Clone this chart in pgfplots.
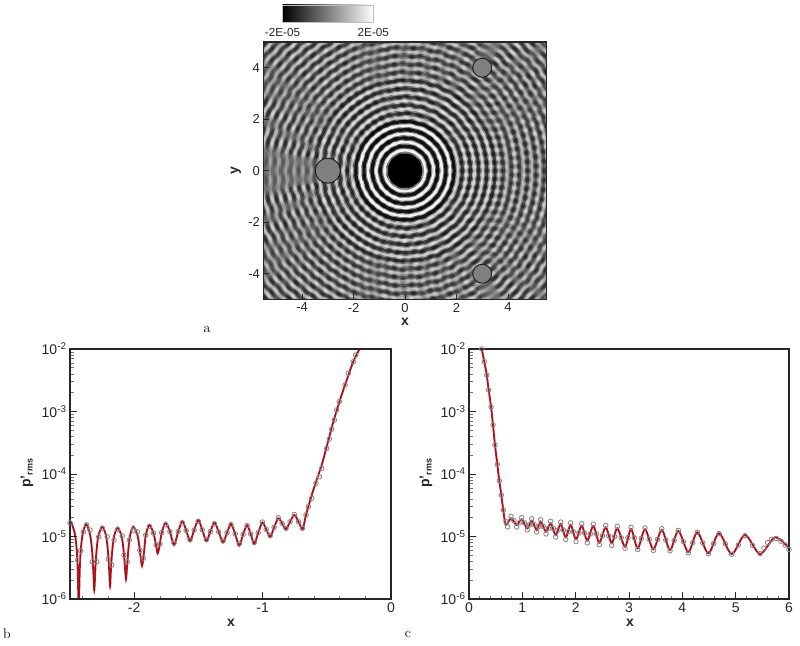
\documentclass[border=0pt]{standalone}
\usepackage{pgfplots}
\usepackage{pgfplotstable}
\usepackage{fontspec}
\setmainfont{Liberation Sans}
\newfontfamily\lmfont{Latin Modern Roman}
\pgfplotsset{compat=1.18}
\definecolor{redline}{RGB}{200,22,34}
\definecolor{circ}{RGB}{135,135,135}

\pgfplotstableread{
x y
-2.50 1.70e-5
-2.492 1.72e-5
-2.462 1.10e-5
-2.447 5.9e-6
-2.44 3.0e-6
-2.432 8e-7
-2.424 3.0e-6
-2.417 5.7e-6
-2.403 1.05e-5
-2.375 1.585e-5
-2.343 1.05e-5
-2.327 5.6e-6
-2.319 3.0e-6
-2.311 1.39e-6
-2.303 2.9e-6
-2.295 5.4e-6
-2.28 1.0e-5
-2.248 1.435e-5
-2.218 1.0e-5
-2.203 5.3e-6
-2.195 3.0e-6
-2.188 1.61e-6
-2.181 3.0e-6
-2.173 5.3e-6
-2.158 9.8e-6
-2.129 1.383e-5
-2.097 9.8e-6
-2.08 5.3e-6
-2.072 3.2e-6
-2.064 2.09e-6
-2.056 3.2e-6
-2.048 5.3e-6
-2.035 9.8e-6
-2.007 1.435e-5
-1.973 1.02e-5
-1.956 6.0e-6
-1.939 3.41e-6
-1.922 6.0e-6
-1.91 1.05e-5
-1.882 1.528e-5
-1.85 1.13e-5
-1.83 7.3e-6
-1.817 5.38e-6
-1.80 7.6e-6
-1.786 1.15e-5
-1.755 1.663e-5
-1.722 1.2e-5
-1.69 7.31e-6
-1.657 1.2e-5
-1.625 1.77e-5
-1.595 1.25e-5
-1.565 8.47e-6
-1.533 1.27e-5
-1.501 1.837e-5
-1.47 1.28e-5
-1.438 8.47e-6
-1.407 1.2e-5
-1.375 1.663e-5
-1.342 1.19e-5
-1.308 8.07e-6
-1.277 1.15e-5
-1.246 1.585e-5
-1.214 1.1e-5
-1.182 7.13e-6
-1.152 1.08e-5
-1.121 1.511e-5
-1.093 1.1e-5
-1.065 7.67e-6
-1.034 1.15e-5
-1.002 1.675e-5
-0.972 1.3e-5
-0.941 9.93e-6
-0.91 1.4e-5
-0.878 1.955e-5
-0.848 1.62e-5
-0.818 1.318e-5
-0.786 1.72e-5
-0.753 2.208e-5
-0.72 1.72e-5
-0.688 1.318e-5
-0.662 2.21e-5
-0.605 5.55e-5
-0.54 1.39e-4
-0.501 2.73e-4
-0.449 6.87e-4
-0.397 1.53e-3
-0.345 3.19e-3
-0.294 6.27e-3
-0.247 9.89e-3
-0.2 1.6e-2
}\tableBline

\pgfplotstableread{
x y
-2.5 1.65e-5
-2.44 4.2e-6
-2.417 5.9e-6
-2.396 1.19e-5
-2.37 1.53e-5
-2.344 1.27e-5
-2.326 3.95e-6
-2.292 3.95e-6
-2.276 9.9e-6
-2.248 1.35e-5
-2.21 9.9e-6
-2.202 4.37e-6
-2.175 3.5e-6
-2.157 8.8e-6
-2.129 1.3e-5
-2.093 1.02e-5
-2.08 5.06e-6
-2.054 3.95e-6
-2.038 8.8e-6
-2.007 1.27e-5
-1.976 1.19e-5
-1.956 6.0e-6
-1.93 4.5e-6
-1.91 1.05e-5
-1.882 1.45e-5
-1.85 1.13e-5
-1.83 7.3e-6
-1.80 7.6e-6
-1.786 1.15e-5
-1.755 1.55e-5
-1.722 1.2e-5
-1.69 7.8e-6
-1.657 1.2e-5
-1.625 1.65e-5
-1.595 1.25e-5
-1.565 8.9e-6
-1.533 1.27e-5
-1.501 1.75e-5
-1.47 1.28e-5
-1.438 8.9e-6
-1.407 1.2e-5
-1.375 1.6e-5
-1.342 1.19e-5
-1.308 8.5e-6
-1.277 1.15e-5
-1.246 1.55e-5
-1.214 1.1e-5
-1.182 7.6e-6
-1.152 1.08e-5
-1.121 1.5e-5
-1.093 1.1e-5
-1.065 8.0e-6
-1.034 1.15e-5
-1.002 1.7e-5
-0.972 1.3e-5
-0.941 1.03e-5
-0.91 1.4e-5
-0.878 2.0e-5
-0.848 1.62e-5
-0.818 1.35e-5
-0.786 1.72e-5
-0.753 2.25e-5
-0.72 1.72e-5
-0.69 1.35e-5
-0.662 2.21e-5
-0.644 3.0e-5
-0.618 4.08e-5
-0.584 7.1e-5
-0.558 9.06e-5
-0.54 1.23e-4
-0.501 2.58e-4
-0.48 3.63e-4
-0.462 5.19e-4
-0.441 7.31e-4
-0.423 1.06e-3
-0.403 1.44e-3
-0.358 2.65e-3
-0.333 4.08e-3
-0.294 6.27e-3
-0.275 8.0e-3
}\tableBcirc

\pgfplotstableread{
x y
0.20 1.6e-2
0.238 1.0e-2
0.287 6.27e-3
0.332 3.84e-3
0.369 2.21e-3
0.413 1.19e-3
0.45 6.08e-4
0.487 2.91e-4
0.531 1.43e-4
0.568 7.82e-5
0.606 4.61e-5
0.643 2.65e-5
0.69 1.53e-5
0.788 1.955e-5
0.894 1.528e-5
0.988 1.885e-5
1.093 1.352e-5
1.176 1.79e-5
1.27 1.27e-5
1.344 1.725e-5
1.444 1.194e-5
1.532 1.626e-5
1.626 1.057e-5
1.72 1.585e-5
1.813 9.7e-6
1.907 1.528e-5
2.006 9.02e-6
2.113 1.489e-5
2.218 8.57e-6
2.331 1.472e-5
2.443 7.96e-6
2.563 1.403e-5
2.676 7.78e-6
2.781 1.352e-5
2.925 6.87e-6
3.038 1.318e-5
3.163 6.47e-6
3.3 1.303e-5
3.456 6.24e-6
3.613 1.27e-5
3.769 6.08e-6
3.925 1.225e-5
4.112 5.65e-6
4.281 1.167e-5
4.487 5.38e-6
4.688 1.125e-5
4.926 5.25e-6
5.176 1.057e-5
5.457 5.25e-6
5.738 9.7e-6
6.0 6.47e-6
}\tableCline

\pgfplotstableread{
x y
0.238 1.0e-2
0.287 6.27e-3
0.332 3.84e-3
0.369 2.21e-3
0.413 1.19e-3
0.45 6.08e-4
0.487 2.91e-4
0.531 1.43e-4
0.568 7.82e-5
0.606 4.61e-5
0.643 2.65e-5
0.694 1.73e-5
0.725 1.43e-5
0.788 2.1e-5
0.84 1.8e-5
0.894 1.42e-5
0.94 1.65e-5
0.988 2.0e-5
1.04 1.65e-5
1.093 1.28e-5
1.135 1.55e-5
1.176 1.92e-5
1.22 1.55e-5
1.27 1.18e-5
1.31 1.45e-5
1.344 1.85e-5
1.39 1.45e-5
1.444 1.1e-5
1.49 1.35e-5
1.532 1.75e-5
1.58 1.35e-5
1.626 9.8e-6
1.67 1.27e-5
1.72 1.7e-5
1.77 1.27e-5
1.813 9e-6
1.86 1.2e-5
1.907 1.65e-5
1.955 1.2e-5
2.006 8.3e-6
2.06 1.14e-5
2.113 1.6e-5
2.165 1.14e-5
2.218 7.9e-6
2.275 1.1e-5
2.331 1.58e-5
2.387 1.1e-5
2.443 7.4e-6
2.503 1.03e-5
2.563 1.5e-5
2.62 1.03e-5
2.676 7.2e-6
2.73 1.0e-5
2.781 1.45e-5
2.853 9.6e-6
2.925 6.5e-6
2.98 9.6e-6
3.038 1.4e-5
3.1 9.5e-6
3.163 6.2e-6
3.23 9.3e-6
3.3 1.37e-5
3.378 9e-6
3.456 6e-6
3.535 9e-6
3.613 1.33e-5
3.69 8.8e-6
3.769 5.9e-6
3.847 8.6e-6
3.925 1.25e-5
4.02 8.3e-6
4.112 5.5e-6
4.196 8e-6
4.281 1.17e-5
4.384 7.9e-6
4.487 5.3e-6
4.587 7.7e-6
4.688 1.11e-5
4.807 7.6e-6
4.926 5.2e-6
5.05 7.3e-6
5.176 1.03e-5
5.316 7.2e-6
5.457 5.3e-6
5.53 6.5e-6
5.6 8e-6
5.67 9e-6
5.76 9.3e-6
5.85 8.4e-6
5.93 7.3e-6
6 6.2e-6
}\tableCcirc

% one ring of the field: centre (#1,#2), radius #3 px, colour #4, width #5, opacity #6
\newcommand{\ring}[6]{\addplot[only marks,mark=o,mark size=#3,mark options={draw=#4,line width=#5,draw opacity=#6}] coordinates {(#1,#2)};}

\begin{document}
\begin{tikzpicture}
\path[use as bounding box] (0pt,0pt) rectangle (800pt,645pt);

% colour bar
\shade[left color=black,right color=white,draw=black!25,line width=.6pt] (282.7pt,622.3pt) rectangle (373.3pt,640pt);
\node[font=\fontsize{11.7}{13}\selectfont,black!85] at (282.5pt,612.5pt) {-2E-05};
\node[font=\fontsize{11.7}{13}\selectfont,black!85] at (373.3pt,612.5pt) {2E-05};

% panel a
\begin{axis}[
  at={(263.5pt,345.5pt)}, anchor=south west, scale only axis, width=283pt, height=257.5pt,
  xmin=-5.5, xmax=5.5, ymin=-5, ymax=5,
  xtick={-4,-2,0,2,4}, xticklabels={-4,-2,0,2,4},
  ytick={-4,-2,0,2,4}, yticklabels={-4,-2,0,2,4},
  tick align=inside, xtick pos=bottom, ytick pos=left, major tick length=5pt,
  tick style={black!85,line width=.8pt},
  axis line style={black!85,line width=1.2pt},
  tick label style={font=\fontsize{13}{15}\selectfont,black!85},
  axis on top=true, clip marker paths=true,
  axis background/.style={fill=black!50},
]
% scattered waves from the three small cylinders, then the main rings
\pgfplotsinvokeforeach{18,26.2,...,330}{\ring{-3}{0}{#1}{black}{3pt}{.16}}
\pgfplotsinvokeforeach{22.1,30.3,...,330}{\ring{-3}{0}{#1}{white}{2.6pt}{.16}}
\pgfplotsinvokeforeach{14,22.2,...,340}{\ring{3}{4}{#1}{black}{3pt}{.18}}
\pgfplotsinvokeforeach{18.1,26.3,...,340}{\ring{3}{4}{#1}{white}{2.6pt}{.18}}
\pgfplotsinvokeforeach{14,22.2,...,340}{\ring{3}{-4}{#1}{black}{3pt}{.18}}
\pgfplotsinvokeforeach{18.1,26.3,...,340}{\ring{3}{-4}{#1}{white}{2.6pt}{.18}}
\pgfplotsinvokeforeach{98.4,106.6,...,295}{\ring{0}{0}{#1}{black}{3pt}{.42}}
\pgfplotsinvokeforeach{94.3,102.5,...,295}{\ring{0}{0}{#1}{white}{2.4pt}{.4}}
\pgfplotsinvokeforeach{57.4,65.6,73.8,82,90.2}{\ring{0}{0}{#1}{black}{3pt}{.6}}
\pgfplotsinvokeforeach{53.3,61.5,69.7,77.9,86.1}{\ring{0}{0}{#1}{white}{2.4pt}{.6}}
\pgfplotsinvokeforeach{24.6,32.8,41,49.2}{\ring{0}{0}{#1}{black}{3.2pt}{.85}}
\pgfplotsinvokeforeach{20.5,28.7,36.9,45.1}{\ring{0}{0}{#1}{white}{2.6pt}{.9}}
% shadows behind the cylinders
\addplot[fill=black!50,draw=none,opacity=.4] coordinates {(-3.3,.45)(-5.5,.8)(-5.5,-.8)(-3.3,-.45)} -- cycle;
\addplot[fill=black!50,draw=none,opacity=.45] coordinates {(2.8,-4.4)(3,-5)(3.8,-5)(3.4,-4.4)} -- cycle;
\addplot[fill=black!50,draw=none,opacity=.45] coordinates {(2.8,4.4)(3,5)(3.8,5)(3.4,4.4)} -- cycle;
% cylinders
\addplot[only marks,mark=*,mark size=17,mark options={fill=black,draw=black}] coordinates {(0,0)};
\addplot[only marks,mark=*,mark size=12.5,mark options={fill=black!50,draw=black!90,line width=.9pt}] coordinates {(-3,0)};
\addplot[only marks,mark=*,mark size=9.5,mark options={fill=black!50,draw=black!90,line width=.9pt}] coordinates {(3,4) (3,-4)};
\end{axis}

% panel b
\begin{semilogyaxis}[
  at={(70pt,46pt)}, anchor=south west, scale only axis, width=321pt, height=250pt,
  ymin=1e-6, ymax=1e-2,
  ytick={1e-6,1e-5,1e-4,1e-3,1e-2},
  yticklabels={10\textsuperscript{-6},10\textsuperscript{-5},10\textsuperscript{-4},10\textsuperscript{-3},10\textsuperscript{-2}},
  tick align=inside, xtick pos=bottom, ytick pos=left,
  major tick length=7pt, minor tick length=3.5pt,
  tick style={black!85,line width=1pt}, minor tick style={black!55,line width=.7pt},
  axis line style={black!85,line width=1.5pt},
  tick label style={font=\fontsize{14}{16}\selectfont,black!85},
  axis on top=true,
  xmin=-2.5, xmax=0,
  xtick={-2,-1,0}, xticklabels={-2,-1,0},
  minor xtick={-2.4,-2.2,-1.8,-1.6,-1.4,-1.2,-.8,-.6,-.4,-.2},
]
\addplot[only marks,mark=o,mark size=2.3,mark options={draw=circ,line width=.85pt}] table {\tableBcirc};
\addplot[redline,line width=1.9pt,smooth,tension=.5,no marks] table {\tableBline};
\addplot[black,opacity=.3,line width=.6pt,smooth,tension=.5,no marks] table {\tableBline};
\end{semilogyaxis}

% panel c
\begin{semilogyaxis}[
  at={(469pt,46pt)}, anchor=south west, scale only axis, width=320pt, height=250pt,
  ymin=1e-6, ymax=1e-2,
  ytick={1e-6,1e-5,1e-4,1e-3,1e-2},
  yticklabels={10\textsuperscript{-6},10\textsuperscript{-5},10\textsuperscript{-4},10\textsuperscript{-3},10\textsuperscript{-2}},
  tick align=inside, xtick pos=bottom, ytick pos=left,
  major tick length=7pt, minor tick length=3.5pt,
  tick style={black!85,line width=1pt}, minor tick style={black!55,line width=.7pt},
  axis line style={black!85,line width=1.5pt},
  tick label style={font=\fontsize{14}{16}\selectfont,black!85},
  axis on top=true,
  xmin=0, xmax=6,
  xtick={0,1,2,3,4,5,6}, xticklabels={0,1,2,3,4,5,6},
  minor x tick num=4,
]
\addplot[only marks,mark=o,mark size=2.3,mark options={draw=circ,line width=.85pt}] table {\tableCcirc};
\addplot[redline,line width=1.9pt,smooth,tension=.5,no marks] table {\tableCline};
\addplot[black,opacity=.3,line width=.6pt,smooth,tension=.5,no marks] table {\tableCline};
\end{semilogyaxis}

% axis titles and panel letters
\node[font=\bfseries\fontsize{14}{16}\selectfont,black!85] at (405pt,323.5pt) {x};
\node[font=\bfseries\fontsize{14}{16}\selectfont,black!85,rotate=90] at (236pt,474pt) {y};
\node[font=\bfseries\fontsize{14}{16}\selectfont,black!85] at (231pt,22pt) {x};
\node[font=\bfseries\fontsize{14}{16}\selectfont,black!85] at (630pt,22pt) {x};
\node[font=\bfseries\fontsize{14}{16}\selectfont,black!85,rotate=90] at (27pt,172pt) {p'\textsubscript{\fontsize{9}{10}\selectfont rms}};
\node[font=\bfseries\fontsize{14}{16}\selectfont,black!85,rotate=90] at (426pt,172pt) {p'\textsubscript{\fontsize{9}{10}\selectfont rms}};
\node[font=\lmfont\fontsize{14}{16}\selectfont] at (207pt,316pt) {a};
\node[font=\lmfont\fontsize{14}{16}\selectfont] at (7pt,11pt) {b};
\node[font=\lmfont\fontsize{14}{16}\selectfont] at (408pt,11pt) {c};
\end{tikzpicture}
\end{document}
